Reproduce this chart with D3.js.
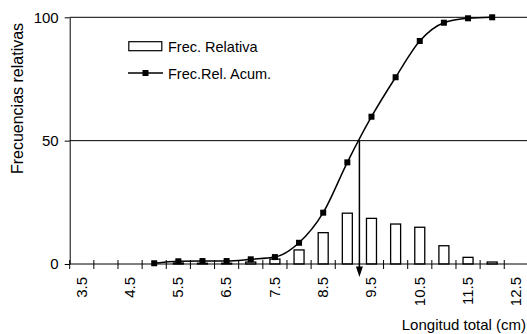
<!DOCTYPE html>
<html>
<head>
<meta charset="utf-8">
<script src="https://cdn.jsdelivr.net/npm/d3@7"></script>
<style>
  body { margin: 0; background: #fff; }
  text { font-family: "Liberation Sans", Arial, sans-serif; fill: #000; }
</style>
</head>
<body>
<svg id="drawarea"></svg>
<script>
// clases de longitud (cm)
var clases = [3.5, 4, 4.5, 5, 5.5, 6, 6.5, 7, 7.5, 8, 8.5, 9, 9.5, 10, 10.5, 11, 11.5, 12, 12.5];
// frecuencia relativa (%) por clase
var frecRel = [0, 0, 0, 0, 0.4, 0.3, 0.3, 0.8, 2.0, 5.7, 12.7, 20.6, 18.5, 16.2, 14.9, 7.4, 2.7, 0.8, 0];
// frecuencia relativa acumulada (%)
var acumClases = [5, 5.5, 6, 6.5, 7, 7.5, 8, 8.5, 9, 9.5, 10, 10.5, 11, 11.5, 12];
var frecAcum = [0.3, 1.1, 1.2, 1.2, 1.9, 2.8, 8.6, 20.8, 41.2, 59.7, 75.7, 90.4, 97.8, 99.6, 100];
var etiquetasX = [3.5, 4.5, 5.5, 6.5, 7.5, 8.5, 9.5, 10.5, 11.5, 12.5];
var etiquetasY = [0, 50, 100];
var mediana = 9.25;

var W = 527, H = 334;
var svg = d3.select("#drawarea").attr("width", W).attr("height", H);

var x = d3.scaleLinear().domain([3.25, 12.75]).range([69.7, 528.4]);
var y = d3.scaleLinear().domain([0, 100]).range([264, 17.3]);
var y0 = y(0);

/* lineas horizontales */
svg.selectAll("line.grid")
    .data([50, 100])
    .enter().append("line")
    .attr("x1", x.range()[0]).attr("x2", W)
    .attr("y1", function(d){ return y(d); })
    .attr("y2", function(d){ return y(d); })
    .attr("stroke", "#000").attr("stroke-width", 1);

/* barras */
svg.selectAll("rect.bar")
    .data(frecRel)
    .enter().append("rect")
    .attr("class", "bar")
    .attr("x", function(d,i){ return x(clases[i]) - 5; })
    .attr("y", function(d){ return y(d); })
    .attr("width", 10)
    .attr("height", function(d){ return y0 - y(d); })
    .attr("fill", "#fff")
    .attr("stroke", "#000")
    .attr("stroke-width", 1.3)
    .style("display", function(d){ return d > 0 ? null : "none"; });

/* eje x */
svg.append("line")
    .attr("x1", x.range()[0]).attr("x2", W)
    .attr("y1", y0).attr("y2", y0)
    .attr("stroke", "#000");

var limites = clases.map(function(c){ return c - 0.25; });
svg.selectAll("line.xtick")
    .data(limites)
    .enter().append("line")
    .attr("x1", function(d){ return x(d); })
    .attr("x2", function(d){ return x(d); })
    .attr("y1", y0 - 4).attr("y2", y0 + 5)
    .attr("stroke", "#000");

var gx = svg.append("g")
    .attr("transform", "translate(0," + y0 + ")")
    .call(d3.axisBottom(x).tickValues(etiquetasX).tickFormat(d3.format(".1f")).tickSize(0));
gx.select(".domain").remove();
gx.selectAll("text")
    .attr("x", 0).attr("y", 0).attr("dy", "0.35em")
    .attr("transform", "translate(-1,13) rotate(-90)")
    .style("text-anchor", "end")
    .style("font-size", "15px")
    .style("font-family", "Liberation Sans, Arial, sans-serif");

/* eje y */
var gy = svg.append("g")
    .attr("transform", "translate(" + x.range()[0] + ",0)")
    .call(d3.axisLeft(y).tickValues(etiquetasY).tickSize(5).tickSizeOuter(0).tickPadding(6));
gy.select(".domain").attr("stroke", "#000");
gy.selectAll("text")
    .style("font-size", "15px")
    .style("font-family", "Liberation Sans, Arial, sans-serif");

/* curva acumulada */
var linea = d3.line()
    .x(function(d,i){ return x(acumClases[i]); })
    .y(function(d){ return y(d); })
    .curve(d3.curveMonotoneX);
svg.append("path")
    .datum(frecAcum)
    .attr("d", linea)
    .attr("fill", "none")
    .attr("stroke", "#000")
    .attr("stroke-width", 1.5);
svg.selectAll("rect.pt")
    .data(frecAcum)
    .enter().append("rect")
    .attr("x", function(d,i){ return x(acumClases[i]) - 3; })
    .attr("y", function(d){ return y(d) - 3; })
    .attr("width", 6).attr("height", 6)
    .attr("fill", "#000");

/* flecha mediana */
var xm = x(mediana);
svg.append("line")
    .attr("x1", xm).attr("x2", xm)
    .attr("y1", y(50)).attr("y2", 268)
    .attr("stroke", "#000").attr("stroke-width", 1.5);
svg.append("path")
    .attr("d", "M" + (xm - 3.5) + ",266.5L" + (xm + 3.5) + ",266.5L" + xm + ",277Z")
    .attr("fill", "#000");

/* leyenda */
var leg = svg.append("g");
leg.append("rect")
    .attr("x", 128.8).attr("y", 41.7).attr("width", 33).attr("height", 9)
    .attr("fill", "#fff").attr("stroke", "#000").attr("stroke-width", 1.2);
leg.append("text").attr("x", 168).attr("y", 51.5)
    .style("font-size", "14.5px").text("Frec. Relativa");
leg.append("line")
    .attr("x1", 128).attr("x2", 163).attr("y1", 73).attr("y2", 73)
    .attr("stroke", "#000").attr("stroke-width", 1.5);
leg.append("rect")
    .attr("x", 142.5).attr("y", 70).attr("width", 6).attr("height", 6)
    .attr("fill", "#000");
leg.append("text").attr("x", 168).attr("y", 78.5)
    .style("font-size", "14.5px").text("Frec.Rel. Acum.");

/* titulos */
svg.append("text")
    .attr("transform", "translate(23,98.5) rotate(-90)")
    .style("text-anchor", "middle")
    .style("font-size", "16px")
    .text("Frecuencias relativas");
svg.append("text")
    .attr("x", 526).attr("y", 330)
    .style("text-anchor", "end")
    .style("font-size", "15px")
    .text("Longitud total (cm)");
</script>
</body>
</html>
